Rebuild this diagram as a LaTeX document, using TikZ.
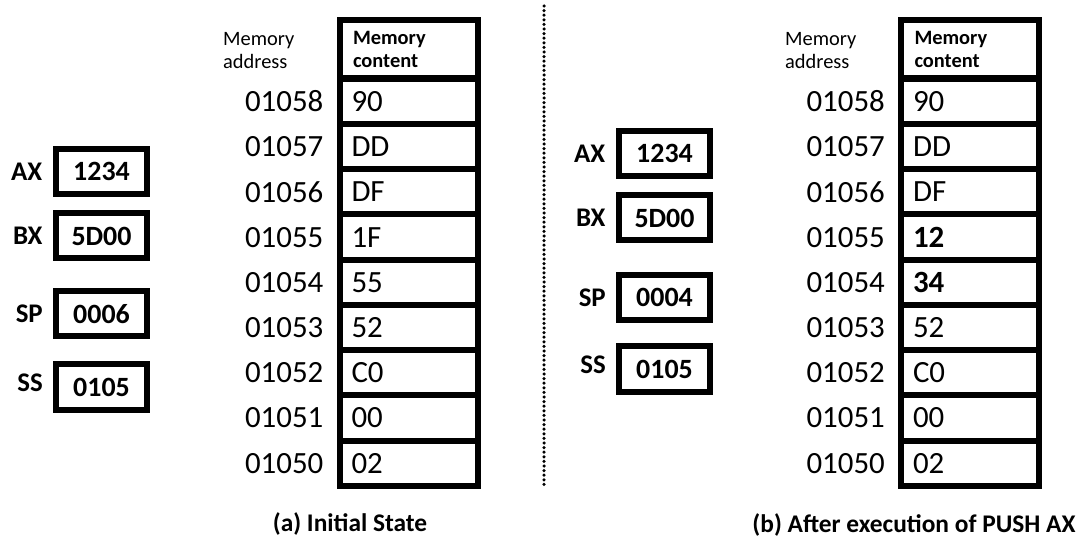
\documentclass[tikz,border=0pt]{standalone}
\usepackage{fontspec}
\setmainfont{Carlito}
\usepackage{tikz}
\usetikzlibrary{positioning}

\tikzset{
  regbox/.style={draw, line width=6bp, minimum width=91bp, minimum height=45bp, inner sep=0pt,
    font=\fontsize{28}{32}\selectfont\bfseries},
  reglabel/.style={inner sep=0pt, font=\fontsize{27}{32}\selectfont\bfseries},
  cellbox/.style={draw, line width=6bp, minimum width=138bp, minimum height=45.2bp,
    inner xsep=12bp, inner ysep=0pt, text width=114bp, align=left,
    font=\fontsize{31}{36}\selectfont},
  headbox/.style={cellbox, minimum height=58bp, inner xsep=13.5bp, text width=111bp,
    font=\fontsize{20.5}{24}\selectfont\bfseries},
  addrtext/.style={anchor=east, inner sep=0pt, font=\fontsize{31}{36}\selectfont},
  headtext/.style={anchor=base west, inner sep=0pt, align=left, font=\fontsize{20.5}{24}\selectfont},
  divline/.style={line width=3.5bp, line cap=round, dash pattern=on 0bp off 4.6bp},
  captext/.style={anchor=base, inner sep=0pt, font=\fontsize{25.5}{30}\selectfont\bfseries}
}

\begin{document}
\begin{tikzpicture}[x=1bp,y=-1bp]
  \useasboundingbox (0,0) rectangle (1078,543); % 画像全体の大きさ

  % (a) 初期状態のレジスタ
  \node[regbox] (axA) at (101.5,171.5) {1234};
  \node[regbox] (bxA) at (101.5,236) {5D00};
  \node[regbox] (spA) at (101.5,314) {0006};
  \node[regbox] (ssA) at (101.5,387) {0105};
  \node[reglabel, left=10.5bp of axA] (axAl) {AX};
  \node[reglabel, left=10.5bp of bxA] (bxAl) {BX};
  \node[reglabel, left=10bp of spA] (spAl) {SP};
  \node[reglabel, left=10bp of ssA, yshift=4bp] (ssAl) {SS};

  % (a) のメモリ表
  \node[headtext] (haA) at (223,69) {Memory\\address};
  \node[headbox] (hcA) at (408.5,49.5) {Memory\\content};
  \foreach \v [count=\r from 0] in {90,DD,DF,1F,55,52,C0,00,02} {
    \pgfmathtruncatemacro\ad{1058-\r}
    \node[cellbox] (cA\r) at (408.5,{101.5+45.2*\r}) {\v}; % 内容のセル
    \node[addrtext] (aA\r) at (323.5,{101.5+45.2*\r}) {0\ad}; % アドレス
  }

  % 区切りの点線
  \coordinate (divtop) at (544,6);
  \coordinate (divbot) at (544,488);
  \draw[divline] (divtop) -- (divbot);

  % (b) PUSH AX 実行後のレジスタ
  \node[regbox] (axB) at (664.5,153.5) {1234};
  \node[regbox] (bxB) at (664.5,218) {5D00};
  \node[regbox] (spB) at (664.5,297.5) {0004};
  \node[regbox] (ssB) at (664.5,369) {0105};
  \node[reglabel, left=10.5bp of axB] (axBl) {AX};
  \node[reglabel, left=10.5bp of bxB] (bxBl) {BX};
  \node[reglabel, left=10bp of spB] (spBl) {SP};
  \node[reglabel, left=10bp of ssB, yshift=4bp] (ssBl) {SS};

  % (b) のメモリ表
  \node[headtext] (haB) at (785,69) {Memory\\address};
  \node[headbox] (hcB) at (970,49.5) {Memory\\content};
  \foreach \v [count=\r from 0] in {90,DD,DF,\textbf{12},\textbf{34},52,C0,00,02} {
    \pgfmathtruncatemacro\ad{1058-\r}
    \node[cellbox] (cB\r) at (970,{101.5+45.2*\r}) {\v};
    \node[addrtext] (aB\r) at (885,{101.5+45.2*\r}) {0\ad};
  }

  % 見出し
  \node[captext] (capA) at (350,531) {(a) Initial State};
  \node[captext] (capB) at (914,532) {(b) After execution of PUSH AX};
\end{tikzpicture}
\end{document}
